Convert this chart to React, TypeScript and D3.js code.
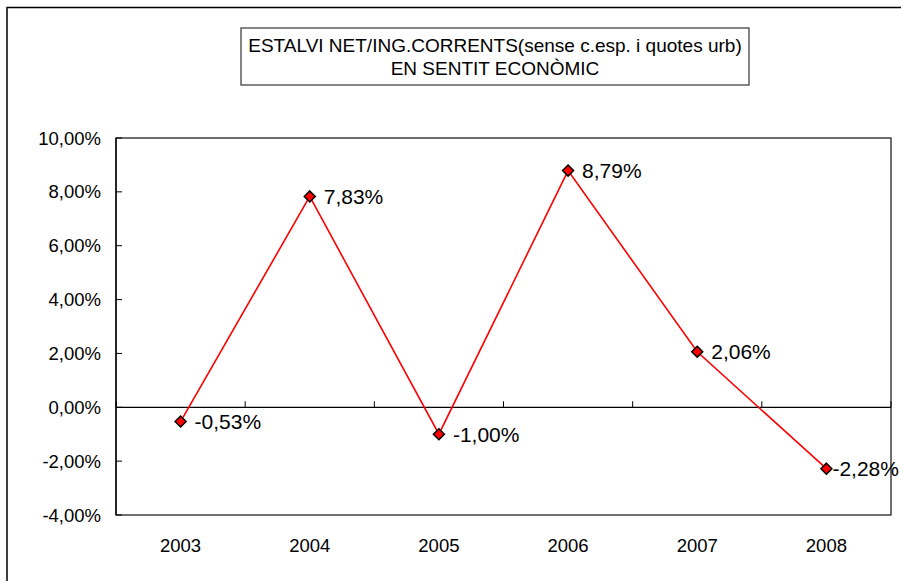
import React from "react";
import * as d3 from "d3";

const categories = ["2003", "2004", "2005", "2006", "2007", "2008"];
const values = [-0.53, 7.83, -1.0, 8.79, 2.06, -2.28];
const yTicks = [-4, -2, 0, 2, 4, 6, 8, 10];
const titleLines = [
  "ESTALVI NET/ING.CORRENTS(sense c.esp. i quotes urb)",
  "EN SENTIT ECONÒMIC",
];
const labelDx = [14, 14, 14, 14, 14, 6];

const W = 901;
const H = 581;
const plot = { left: 116, right: 891, top: 138, bottom: 515 };
const font = "'Liberation Sans', Arial, sans-serif";

const fmt = (v: number) => v.toFixed(2).replace(".", ",") + "%";

export default function App() {
  const x = d3
    .scaleBand<string>()
    .domain(categories)
    .range([plot.left, plot.right])
    .paddingInner(0)
    .paddingOuter(0);
  const y = d3.scaleLinear().domain([-4, 10]).range([plot.bottom, plot.top]);
  const cx = (c: string) => (x(c) as number) + x.bandwidth() / 2;

  const line = d3
    .line<number>()
    .x((_, i) => cx(categories[i]))
    .y((d) => y(d));

  const boundaries = categories.map((c) => x(c) as number).concat([plot.right]);
  const r = 5.5;

  return (
    <svg
      width={W}
      height={H}
      style={{ position: "absolute", left: 0, top: 0, background: "#fff" }}
      fontFamily={font}
    >
      <rect x={0} y={0} width={W} height={H} fill="#fff" />
      {/* outer chart border */}
      <rect x={7} y={7.5} width={W + 20} height={H + 20} fill="none" stroke="#000" strokeWidth={1.5} />

      {/* title box */}
      <rect x={241} y={28} width={508} height={57} fill="#fff" stroke="#444" strokeWidth={1.3} />
      {titleLines.map((t, i) => (
        <text key={i} x={495} y={52 + i * 23} textAnchor="middle" fontSize={19} fill="#000">
          {t}
        </text>
      ))}

      {/* plot area border */}
      <rect
        x={plot.left}
        y={plot.top}
        width={plot.right - plot.left}
        height={plot.bottom - plot.top}
        fill="#fff"
        stroke="#222"
        strokeWidth={1.3}
      />
      {/* y axis */}
      <line x1={plot.left} x2={plot.left} y1={plot.top} y2={plot.bottom} stroke="#000" strokeWidth={1.3} />
      {yTicks.map((t) => (
        <g key={t}>
          <line x1={plot.left} x2={plot.left + 6} y1={y(t)} y2={y(t)} stroke="#000" strokeWidth={1} />
          <text x={101} y={y(t) + 6.5} textAnchor="end" fontSize={18.5} fill="#000">
            {fmt(t)}
          </text>
        </g>
      ))}

      {/* zero line with category ticks */}
      <line x1={plot.left} x2={plot.right} y1={y(0)} y2={y(0)} stroke="#000" strokeWidth={1.3} />
      {boundaries.map((b, i) => (
        <line key={i} x1={b} x2={b} y1={y(0)} y2={y(0) - 6} stroke="#000" strokeWidth={1} />
      ))}

      {/* x labels */}
      {categories.map((c) => (
        <text key={c} x={cx(c)} y={552} textAnchor="middle" fontSize={18.5} fill="#000">
          {c}
        </text>
      ))}

      {/* series line */}
      <path d={line(values) || ""} fill="none" stroke="#ff0000" strokeWidth={1.6} />

      {/* markers */}
      {values.map((v, i) => {
        const px = cx(categories[i]);
        const py = y(v);
        return (
          <path
            key={i}
            d={`M${px},${py - r}L${px + r},${py}L${px},${py + r}L${px - r},${py}Z`}
            fill="#ff0000"
            stroke="#000"
            strokeWidth={1.5}
          />
        );
      })}

      {/* data labels */}
      {values.map((v, i) => (
        <text
          key={i}
          x={cx(categories[i]) + labelDx[i]}
          y={y(v) + 7.5}
          fontSize={21}
          fill="#000"
        >
          {fmt(v)}
        </text>
      ))}
    </svg>
  );
}
